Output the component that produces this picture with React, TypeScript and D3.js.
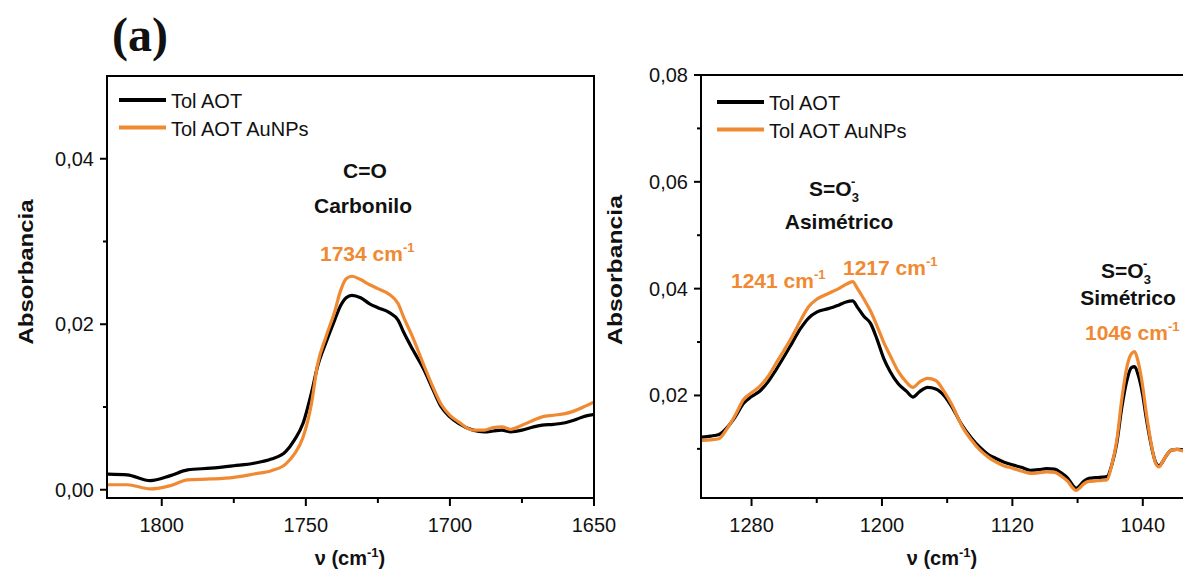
import React from "react";
import * as d3 from "d3";

// ---------- data ----------
const seriesNames = ["Tol AOT", "Tol AOT AuNPs"];

const leftWn = [1819, 1812, 1804, 1797, 1791, 1783, 1775, 1768, 1762, 1757, 1754, 1751, 1748, 1746, 1743, 1740, 1738, 1736, 1734, 1731, 1728, 1725, 1721, 1718, 1716, 1713, 1709, 1706, 1703, 1700, 1697, 1692, 1688, 1685, 1682, 1679, 1675, 1671, 1668, 1664, 1660, 1657, 1653, 1650];
const leftBlack = [0.0019, 0.0018, 0.0011, 0.0017, 0.0024, 0.0026, 0.0029, 0.0032, 0.0037, 0.0046, 0.006, 0.008, 0.0118, 0.0148, 0.0178, 0.0205, 0.0222, 0.0232, 0.0235, 0.0232, 0.0225, 0.022, 0.0214, 0.0205, 0.019, 0.017, 0.0145, 0.0122, 0.01, 0.0088, 0.008, 0.0072, 0.007, 0.0071, 0.0072, 0.007, 0.0072, 0.0076, 0.0078, 0.0079, 0.0081, 0.0084, 0.0089, 0.0091];
const leftOrange = [0.0006, 0.0006, 0.0001, 0.0005, 0.0012, 0.0013, 0.0015, 0.0019, 0.0023, 0.0031, 0.0043, 0.0063, 0.0105, 0.015, 0.0185, 0.0215, 0.024, 0.0255, 0.0258, 0.0254, 0.0248, 0.0243, 0.0236, 0.0225, 0.0208, 0.0185, 0.015, 0.0125, 0.0103, 0.009, 0.0082, 0.0072, 0.0072, 0.0075, 0.0076, 0.0073, 0.0078, 0.0084, 0.0088, 0.009, 0.0092, 0.0095, 0.0101, 0.0106];

const rightWn = [1311, 1305, 1300, 1295, 1290, 1285, 1280, 1275, 1270, 1265, 1260, 1255, 1250, 1245, 1240, 1235, 1230, 1226, 1222, 1218, 1215, 1211, 1207, 1203, 1199, 1195, 1190, 1185, 1181, 1177, 1172, 1167, 1162, 1157, 1151, 1145, 1140, 1135, 1130, 1125, 1120, 1114, 1109, 1104, 1099, 1094, 1090, 1086, 1083, 1081, 1079, 1076, 1073, 1069, 1065, 1062, 1059, 1056, 1053, 1050, 1047, 1045, 1043, 1040, 1038, 1036, 1034, 1032, 1030, 1028, 1025, 1022, 1019, 1015, 1010];
const rightBlack = [0.0122, 0.0124, 0.0127, 0.014, 0.016, 0.0185, 0.0198, 0.0208, 0.0225, 0.0248, 0.0273, 0.0299, 0.0325, 0.0345, 0.0356, 0.0361, 0.0365, 0.037, 0.0375, 0.0377, 0.0365, 0.0348, 0.0335, 0.0305, 0.027, 0.0245, 0.0222, 0.0208, 0.0197, 0.0207, 0.0215, 0.0212, 0.02, 0.0178, 0.0145, 0.012, 0.0103, 0.009, 0.0082, 0.0075, 0.007, 0.0065, 0.006, 0.0061, 0.0063, 0.0062, 0.0055, 0.0045, 0.0032, 0.0026, 0.003, 0.004, 0.0045, 0.0046, 0.0047, 0.0048, 0.007, 0.011, 0.0175, 0.0225, 0.0252, 0.0254, 0.024, 0.02, 0.016, 0.0125, 0.0095, 0.0074, 0.0068, 0.0075, 0.009, 0.0098, 0.0099, 0.0098, 0.0097];
const rightOrange = [0.0116, 0.0117, 0.0119, 0.0138, 0.0163, 0.0192, 0.0205, 0.0217, 0.0235, 0.026, 0.0285, 0.0311, 0.034, 0.0366, 0.038, 0.0388, 0.0395, 0.0401, 0.0408, 0.0413, 0.04, 0.038, 0.0358, 0.033, 0.03, 0.0275, 0.0245, 0.0225, 0.0215, 0.0225, 0.0232, 0.0228, 0.0208, 0.0182, 0.0143, 0.0116, 0.0098, 0.0085, 0.0075, 0.0068, 0.0064, 0.0058, 0.0054, 0.0055, 0.0057, 0.0056, 0.0049, 0.0039, 0.0027, 0.0022, 0.0026, 0.0035, 0.0039, 0.004, 0.0041, 0.0042, 0.007, 0.0115, 0.019, 0.025, 0.0278, 0.0282, 0.0265, 0.0216, 0.017, 0.013, 0.0096, 0.0072, 0.0066, 0.0075, 0.009, 0.0098, 0.0099, 0.0096, 0.0095];

const leftXMajor = [1800, 1750, 1700, 1650];
const leftXMinor = [1775, 1725, 1675];
const leftYMajor = [0, 0.02, 0.04];
const leftYMinor = [0.01, 0.03];
const rightXMajor = [1280, 1200, 1120, 1040];
const rightXMinor = [1240, 1160, 1080, 1000];
const rightYMajor = [0.02, 0.04, 0.06, 0.08];
const rightYMinor = [0.01, 0.03, 0.05, 0.07];

const BLACK = "#000000";
const ORANGE = "#F08A32";
const FONT = "'Liberation Sans', Arial, Helvetica, sans-serif";
const fmt = (v: number) => v.toFixed(2).replace(".", ",");

type PanelProps = {
  x0: number; x1: number; y0: number; y1: number;
  xDomain: [number, number]; yDomain: [number, number];
  wn: number[]; black: number[]; orange: number[];
  xMajor: number[]; xMinor: number[]; yMajor: number[]; yMinor: number[];
  showRight: boolean; clipId: string;
};

function Panel(p: PanelProps) {
  const x = d3.scaleLinear().domain(p.xDomain).range([p.x0, p.x1]);
  const y = d3.scaleLinear().domain(p.yDomain).range([p.y1, p.y0]);
  const line = d3
    .line<[number, number]>()
    .x((d) => x(d[0]))
    .y((d) => y(d[1]))
    .curve(d3.curveMonotoneX);
  const bl = p.wn.map((w, i) => [w, p.black[i]] as [number, number]);
  const or = p.wn.map((w, i) => [w, p.orange[i]] as [number, number]);
  return (
    <g>
      <defs>
        <clipPath id={p.clipId}>
          <rect x={p.x0 + 1} y={p.y0} width={p.x1 - p.x0 - 2} height={p.y1 - p.y0 - 1} />
        </clipPath>
      </defs>
      <g clipPath={`url(#${p.clipId})`}>
        <path d={line(bl) || ""} fill="none" stroke={BLACK} strokeWidth={3.2} strokeLinejoin="round" />
        <path d={line(or) || ""} fill="none" stroke={ORANGE} strokeWidth={3.2} strokeLinejoin="round" />
      </g>
      {/* frame */}
      <line x1={p.x0} x2={p.x0} y1={p.y0} y2={p.y1 + 1} stroke="#000" strokeWidth={2} />
      <line x1={p.x0 - 1} x2={p.x1 + 1} y1={p.y1} y2={p.y1} stroke="#000" strokeWidth={2} />
      <line x1={p.x0 - 1} x2={p.x1 + 1} y1={p.y0} y2={p.y0} stroke="#000" strokeWidth={2} />
      {p.showRight && <line x1={p.x1} x2={p.x1} y1={p.y0} y2={p.y1 + 1} stroke="#000" strokeWidth={2} />}
      {/* x ticks */}
      {p.xMajor.map((t) => (
        <g key={"xm" + t}>
          <line x1={x(t)} x2={x(t)} y1={p.y1} y2={p.y1 + 8} stroke="#000" strokeWidth={2} />
          <text x={x(t)} y={p.y1 + 34} textAnchor="middle" fontFamily={FONT} fontSize={20} fill="#111">
            {t}
          </text>
        </g>
      ))}
      {p.xMinor.map((t) => (
        <line key={"xn" + t} x1={x(t)} x2={x(t)} y1={p.y1} y2={p.y1 + 5} stroke="#000" strokeWidth={2} />
      ))}
      {/* y ticks */}
      {p.yMajor.map((t) => (
        <g key={"ym" + t}>
          <line x1={p.x0} x2={p.x0 - 7} y1={y(t)} y2={y(t)} stroke="#000" strokeWidth={2} />
          <text x={p.x0 - 13} y={y(t) + 7} textAnchor="end" fontFamily={FONT} fontSize={20} fill="#111">
            {fmt(t)}
          </text>
        </g>
      ))}
      {p.yMinor.map((t) => (
        <line key={"yn" + t} x1={p.x0} x2={p.x0 - 4} y1={y(t)} y2={y(t)} stroke="#000" strokeWidth={2} />
      ))}
    </g>
  );
}

function Legend({ x, y }: { x: number; y: number }) {
  return (
    <g fontFamily={FONT} fontSize={20}>
      {seriesNames.map((n, i) => (
        <g key={n}>
          <line x1={x} x2={x + 47} y1={y + i * 27.5} y2={y + i * 27.5} stroke={i === 0 ? BLACK : ORANGE} strokeWidth={4} />
          <text x={x + 52} y={y + i * 27.5 + 8} fill="#111">
            {n}
          </text>
        </g>
      ))}
    </g>
  );
}

function Wave({ x, y, label, anchor = "start" }: { x: number; y: number; label: string; anchor?: string }) {
  return (
    <text x={x} y={y} fontFamily={FONT} fontSize={21} fontWeight="bold" fill={ORANGE} textAnchor={anchor}>
      {label} cm
      <tspan fontSize={13} dy={-9}>-1</tspan>
    </text>
  );
}

function SO3({ x, y }: { x: number; y: number }) {
  return (
    <text x={x} y={y} fontFamily={FONT} fontSize={21} fontWeight="bold" fill="#111" textAnchor="middle">
      S=O
      <tspan fontSize={13} dy={6}>3</tspan>
      <tspan fontSize={13} dx={-8} dy={-16}>-</tspan>
    </text>
  );
}

export default function App() {
  return (
    <svg
      width={1183}
      height={578}
      style={{ position: "absolute", left: 0, top: 0, background: "#fff" }}
    >
      <rect x={0} y={0} width={1183} height={578} fill="#fff" />
      <text x={112} y={51} fontFamily="'Liberation Serif', 'Times New Roman', serif" fontSize={48} fontWeight="bold" fill="#111">
        (a)
      </text>

      <Panel
        x0={107} x1={594} y0={76} y1={498}
        xDomain={[1819, 1650]} yDomain={[-0.001, 0.05]}
        wn={leftWn} black={leftBlack} orange={leftOrange}
        xMajor={leftXMajor} xMinor={leftXMinor} yMajor={leftYMajor} yMinor={leftYMinor}
        showRight={true} clipId="clipL"
      />
      <Panel
        x0={701} x1={1208} y0={75} y1={498}
        xDomain={[1311, 1000]} yDomain={[0.0008, 0.08]}
        wn={rightWn} black={rightBlack} orange={rightOrange}
        xMajor={rightXMajor} xMinor={rightXMinor} yMajor={rightYMajor} yMinor={rightYMinor}
        showRight={true} clipId="clipR"
      />

      <Legend x={119} y={100} />
      <Legend x={717} y={102} />

      {/* axis titles */}
      <text transform="translate(33,272) rotate(-90)" textAnchor="middle" fontFamily={FONT} fontSize={21} fontWeight="bold" fill="#111" textLength={145} lengthAdjust="spacingAndGlyphs">
        Absorbancia
      </text>
      <text transform="translate(622,270) rotate(-90)" textAnchor="middle" fontFamily={FONT} fontSize={21} fontWeight="bold" fill="#111" textLength={150} lengthAdjust="spacingAndGlyphs">
        Absorbancia
      </text>
      <text x={350} y={565} textAnchor="middle" fontFamily={FONT} fontSize={20} fontWeight="bold" fill="#111">
        ν (cm<tspan fontSize={13} dy={-8}>-1</tspan><tspan dy={8}>)</tspan>
      </text>
      <text x={942} y={565} textAnchor="middle" fontFamily={FONT} fontSize={20} fontWeight="bold" fill="#111">
        ν (cm<tspan fontSize={13} dy={-8}>-1</tspan><tspan dy={8}>)</tspan>
      </text>

      {/* annotations left */}
      <text x={365} y={178} textAnchor="middle" fontFamily={FONT} fontSize={21} fontWeight="bold" fill="#111">C=O</text>
      <text x={363} y={213} textAnchor="middle" fontFamily={FONT} fontSize={21} fontWeight="bold" fill="#111">Carbonilo</text>
      <Wave x={320} y={261} label="1734" />

      {/* annotations right */}
      <SO3 x={834} y={196} />
      <text x={839} y={229} textAnchor="middle" fontFamily={FONT} fontSize={21} fontWeight="bold" fill="#111">Asimétrico</text>
      <Wave x={731} y={288} label="1241" />
      <Wave x={843} y={275} label="1217" />
      <SO3 x={1126} y={278} />
      <text x={1128} y={305} textAnchor="middle" fontFamily={FONT} fontSize={21} fontWeight="bold" fill="#111">Simétrico</text>
      <Wave x={1085} y={340} label="1046" />
    </svg>
  );
}
